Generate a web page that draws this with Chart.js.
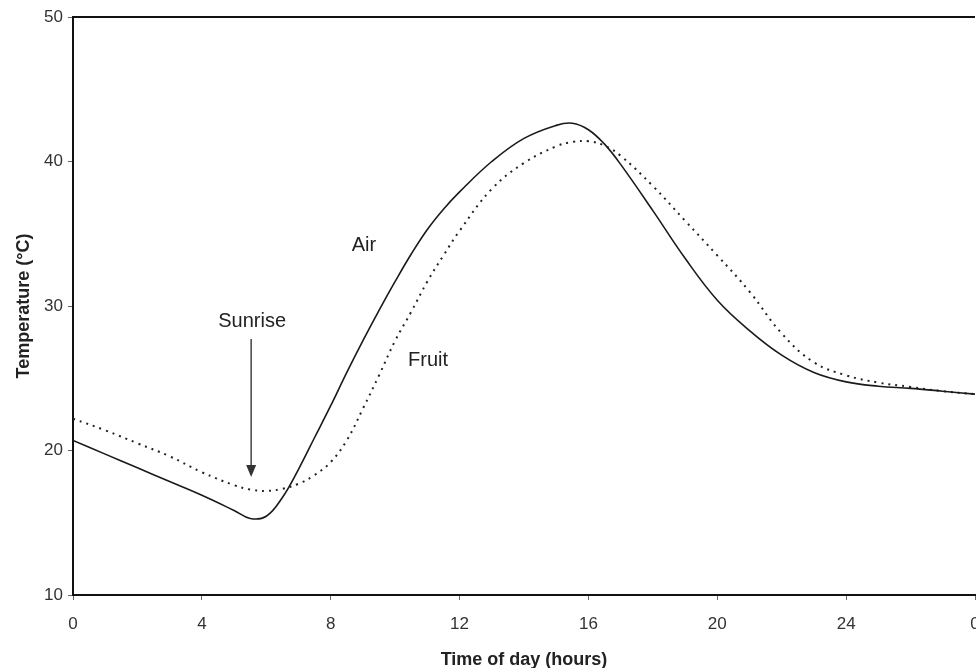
<!DOCTYPE html>
<html>
<head>
<meta charset="utf-8">
<script src="https://cdn.jsdelivr.net/npm/chart.js@4"></script>
<style>
  body { margin: 0; background: #fff; }
  #wrap { width: 976px; height: 668px; }
</style>
</head>
<body>
<div id="wrap"><canvas id="tempChart" width="976" height="668"></canvas></div>
<script>
// time of day (hours), 28 = midnight of next day
const hours     = [0, 1, 2, 3, 4, 5, 5.5, 6, 6.5, 7, 7.5, 8, 8.5, 9, 9.5, 10, 10.5, 11, 11.5, 12, 13, 14, 15, 15.5, 16, 16.5, 17, 18, 19, 20, 21, 22, 23, 24, 25, 26, 27, 28];
const airTemp   = [20.7, 19.75, 18.8, 17.85, 16.9, 15.85, 15.3, 15.45, 16.75, 18.7, 20.9, 23.1, 25.4, 27.6, 29.7, 31.7, 33.6, 35.3, 36.7, 37.9, 40.0, 41.6, 42.5, 42.65, 42.2, 41.2, 39.8, 36.6, 33.3, 30.4, 28.3, 26.6, 25.4, 24.75, 24.45, 24.3, 24.1, 23.9];
const fruitTemp = [22.2, 21.4, 20.5, 19.6, 18.5, 17.6, 17.3, 17.2, 17.35, 17.7, 18.3, 19.2, 20.7, 22.9, 25.2, 27.6, 29.6, 31.7, 33.5, 35.2, 38.1, 39.9, 41.05, 41.35, 41.4, 41.1, 40.4, 38.3, 35.9, 33.5, 31.0, 28.1, 26.1, 25.2, 24.7, 24.4, 24.1, 23.9];
const xTickLabels = ['0', '4', '8', '12', '16', '20', '24', '0'];

// text notes on the plot, in data units
const notes = [
  { text: 'Air', x: 9.03, y: 34.17 },
  { text: 'Fruit', x: 11.02, y: 26.26 },
  { text: 'Sunrise', x: 5.56, y: 28.9 }
];
const sunriseArrow = { x: 5.53, yFrom: 27.72, yTo: 18.17 };

const FONT = '"Liberation Sans", Arial, sans-serif';

const toPoints = (vals) => hours.map((h, i) => ({ x: h, y: vals[i] }));

const annotate = {
  id: 'annotate',
  afterDatasetsDraw(chart) {
    const { ctx, chartArea, scales: { x, y } } = chart;
    ctx.save();
    // top frame line
    ctx.strokeStyle = '#111';
    ctx.lineWidth = 2;
    ctx.beginPath();
    ctx.moveTo(chartArea.left, chartArea.top);
    ctx.lineTo(chartArea.right, chartArea.top);
    ctx.stroke();

    ctx.fillStyle = '#222';
    ctx.font = '20px ' + FONT;
    ctx.textAlign = 'center';
    ctx.textBaseline = 'middle';
    notes.forEach(n => ctx.fillText(n.text, x.getPixelForValue(n.x), y.getPixelForValue(n.y)));

    // sunrise arrow
    const ax = x.getPixelForValue(sunriseArrow.x);
    const y0 = y.getPixelForValue(sunriseArrow.yFrom);
    const y1 = y.getPixelForValue(sunriseArrow.yTo);
    ctx.strokeStyle = '#444';
    ctx.lineWidth = 1.5;
    ctx.beginPath();
    ctx.moveTo(ax, y0);
    ctx.lineTo(ax, y1 - 10);
    ctx.stroke();
    ctx.fillStyle = '#333';
    ctx.beginPath();
    ctx.moveTo(ax - 5, y1 - 12);
    ctx.lineTo(ax + 5, y1 - 12);
    ctx.lineTo(ax, y1);
    ctx.closePath();
    ctx.fill();
    ctx.restore();
  }
};

new Chart(document.getElementById('tempChart'), {
  type: 'line',
  data: {
    datasets: [
      {
        label: 'Air',
        data: toPoints(airTemp),
        borderColor: '#1a1a1a',
        borderWidth: 1.6,
        pointRadius: 0,
        tension: 0.4
      },
      {
        label: 'Fruit',
        data: toPoints(fruitTemp),
        borderColor: '#222',
        borderWidth: 2,
        borderDash: [2, 5],
        pointRadius: 0,
        tension: 0.4
      }
    ]
  },
  plugins: [annotate],
  options: {
    responsive: false,
    animation: false,
    layout: { padding: { top: 17, right: 1, bottom: 0, left: 0 } },
    plugins: {
      legend: { display: false },
      tooltip: { enabled: false }
    },
    scales: {
      x: {
        type: 'linear',
        min: 0,
        max: 28,
        afterFit(scale) { scale.height = 73; scale.paddingLeft = 0; scale.paddingRight = 0; },
        grid: { drawOnChartArea: false, drawTicks: true, tickLength: 5, color: '#666' },
        border: { display: true, color: '#111', width: 2 },
        ticks: {
          stepSize: 4,
          padding: 14,
          color: '#333',
          font: { family: FONT, size: 17 },
          maxRotation: 0,
          callback: (v, i) => xTickLabels[i]
        },
        title: {
          display: true,
          text: 'Time of day (hours)',
          color: '#222',
          font: { family: FONT, size: 18, weight: 'bold' },
          padding: { top: 0, bottom: -3 }
        }
      },
      y: {
        min: 10,
        max: 50,
        afterFit(scale) { scale.width = 73; scale.paddingTop = 0; scale.paddingBottom = 0; },
        grid: { drawOnChartArea: false, drawTicks: true, tickLength: 5, color: '#666' },
        border: { display: true, color: '#111', width: 2 },
        ticks: {
          stepSize: 10,
          padding: 5,
          color: '#333',
          font: { family: FONT, size: 17 }
        },
        title: {
          display: true,
          text: 'Temperature (°C)',
          color: '#222',
          font: { family: FONT, size: 18, weight: 'bold' },
          padding: { top: 13, bottom: 0 }
        }
      }
    }
  }
});
</script>
</body>
</html>
